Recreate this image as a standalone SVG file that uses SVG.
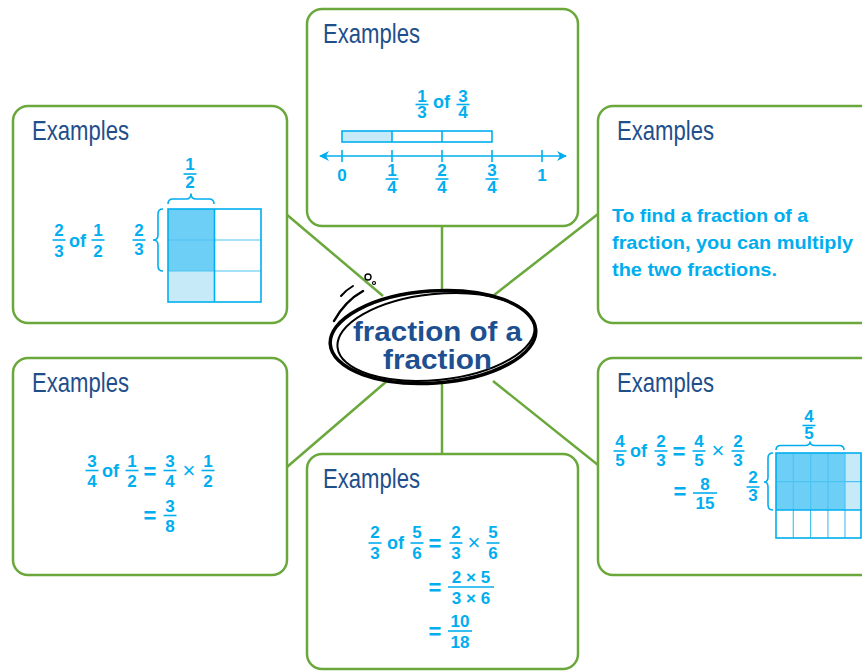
<svg xmlns="http://www.w3.org/2000/svg" width="862" height="671" viewBox="0 0 862 671">
<defs>
<style>
.box{fill:#fff;stroke:#6aa83c;stroke-width:2.5}
.conn{stroke:#6aa83c;stroke-width:2.5;fill:none}
.ex{font-family:"Liberation Sans",Arial,sans-serif;font-size:28px;fill:#1f4f8b}
.m{font-family:"Liberation Sans",Arial,sans-serif;font-weight:bold;font-size:17px;fill:#00aeef;text-anchor:middle}
.of{font-family:"Liberation Sans",Arial,sans-serif;font-weight:bold;font-size:18px;fill:#00aeef}
.eq{font-family:"Liberation Sans",Arial,sans-serif;font-weight:bold;font-size:22px;fill:#00aeef;text-anchor:middle}
.x{font-family:"Liberation Sans",Arial,sans-serif;font-size:22px;fill:#00aeef;text-anchor:middle}
.bar{stroke:#00aeef;stroke-width:1.6}
.cy{stroke:#00aeef;fill:none;stroke-width:1.6}
.gl{stroke:#4cc4f1;stroke-width:1.2}
.txt{font-family:"Liberation Sans",Arial,sans-serif;font-weight:bold;font-size:18.5px;fill:#00aeef}
.title{font-family:"Liberation Sans",Arial,sans-serif;font-weight:bold;font-size:28px;fill:#1d4f91;text-anchor:middle}
</style>
<marker id="arr" viewBox="0 0 10 10" refX="9" refY="5" markerWidth="10" markerHeight="10" markerUnits="userSpaceOnUse" orient="auto-start-reverse">
<path d="M0,0 L10,5 L0,10 L3,5 z" fill="#00aeef"/>
</marker>
</defs>
<rect width="862" height="671" fill="#fff"/>

<g id="connectors">
<line class="conn" x1="286" y1="214" x2="383" y2="296"/>
<line class="conn" x1="442" y1="226" x2="442" y2="298"/>
<line class="conn" x1="598" y1="214" x2="489" y2="299"/>
<line class="conn" x1="287" y1="467" x2="387" y2="381"/>
<line class="conn" x1="442" y1="380" x2="442" y2="454"/>
<line class="conn" x1="598" y1="465" x2="493" y2="381"/>
</g>

<g id="node-top">
<rect class="box" x="307" y="9" width="271" height="217" rx="15"/>
<text class="ex" x="323" y="43" textLength="97" lengthAdjust="spacingAndGlyphs">Examples</text>
<text class="m" x="422" y="102">1</text><line class="bar" x1="415.5" y1="104.5" x2="428.5" y2="104.5"/><text class="m" x="422" y="118">3</text>
<text class="of" x="433" y="108">of</text>
<text class="m" x="463" y="102">3</text><line class="bar" x1="456.5" y1="104.5" x2="469.5" y2="104.5"/><text class="m" x="463" y="118">4</text>
<rect x="342" y="131" width="50" height="11" fill="#c7eaf9"/>
<rect class="cy" x="342" y="131" width="150" height="11"/>
<line class="bar" x1="392" y1="131" x2="392" y2="142"/>
<line class="bar" x1="442" y1="131" x2="442" y2="142"/>
<line class="bar" x1="320" y1="156" x2="566" y2="156" marker-start="url(#arr)" marker-end="url(#arr)"/>
<line class="bar" x1="342" y1="150" x2="342" y2="162"/>
<line class="bar" x1="392" y1="150" x2="392" y2="162"/>
<line class="bar" x1="442" y1="150" x2="442" y2="162"/>
<line class="bar" x1="492" y1="150" x2="492" y2="162"/>
<line class="bar" x1="542" y1="150" x2="542" y2="162"/>
<text class="m" x="342" y="181">0</text>
<text class="m" x="392" y="176">1</text><line class="bar" x1="385.5" y1="179" x2="398.5" y2="179"/><text class="m" x="392" y="193">4</text>
<text class="m" x="442" y="176">2</text><line class="bar" x1="435.5" y1="179" x2="448.5" y2="179"/><text class="m" x="442" y="193">4</text>
<text class="m" x="492" y="176">3</text><line class="bar" x1="485.5" y1="179" x2="498.5" y2="179"/><text class="m" x="492" y="193">4</text>
<text class="m" x="542" y="181">1</text>
</g>

<g id="node-top-left">
<rect class="box" x="13" y="106" width="274" height="217" rx="15"/>
<text class="ex" x="32" y="140" textLength="97" lengthAdjust="spacingAndGlyphs">Examples</text>
<text class="m" x="59" y="236">2</text><line class="bar" x1="52.5" y1="240" x2="65.5" y2="240"/><text class="m" x="59" y="257">3</text>
<text class="of" x="69" y="247">of</text>
<text class="m" x="98" y="236">1</text><line class="bar" x1="91.5" y1="240" x2="104.5" y2="240"/><text class="m" x="98" y="257">2</text>
<text class="m" x="139" y="236">2</text><line class="bar" x1="132.5" y1="240" x2="145.5" y2="240"/><text class="m" x="139" y="255">3</text>
<text class="m" x="190" y="170">1</text><line class="bar" x1="183.5" y1="174" x2="196.5" y2="174"/><text class="m" x="190" y="188">2</text>
<path class="cy" d="M168,204 Q168,199 173,199 L186,199 Q191,199 191,193.5 Q191,199 196,199 L209,199 Q214,199 214,204"/>
<path class="cy" d="M163,209 Q158,209 158,214 L158,235 Q158,240 153,240 Q158,240 158,245 L158,266 Q158,271 163,271"/>
<rect x="168" y="209" width="46.5" height="62" fill="#6dcff6"/>
<rect x="168" y="271" width="46.5" height="31" fill="#c7eaf9"/>
<line class="gl" x1="168" y1="240" x2="261" y2="240"/>
<line class="gl" x1="168" y1="271" x2="261" y2="271"/>
<line class="bar" x1="214.5" y1="209" x2="214.5" y2="302"/>
<rect class="cy" x="168" y="209" width="93" height="93" stroke-width="2"/>
</g>

<g id="node-right">
<rect class="box" x="598" y="106" width="300" height="217" rx="15"/>
<text class="ex" x="617" y="140" textLength="97" lengthAdjust="spacingAndGlyphs">Examples</text>
<text class="txt" x="612" y="222" textLength="196" lengthAdjust="spacingAndGlyphs">To find a fraction of a</text>
<text class="txt" x="612" y="249" textLength="241" lengthAdjust="spacingAndGlyphs">fraction, you can multiply</text>
<text class="txt" x="612" y="276" textLength="165" lengthAdjust="spacingAndGlyphs">the two fractions.</text>
</g>

<g id="node-bottom-left">
<rect class="box" x="13" y="358" width="274" height="217" rx="15"/>
<text class="ex" x="32" y="392" textLength="97" lengthAdjust="spacingAndGlyphs">Examples</text>
<text class="m" x="92" y="467">3</text><line class="bar" x1="85.5" y1="470.5" x2="98.5" y2="470.5"/><text class="m" x="92" y="487">4</text>
<text class="of" x="102" y="477">of</text>
<text class="m" x="132" y="467">1</text><line class="bar" x1="125.5" y1="470.5" x2="138.5" y2="470.5"/><text class="m" x="132" y="487">2</text>
<text class="eq" x="150" y="478.5">=</text>
<text class="m" x="170" y="467">3</text><line class="bar" x1="163.5" y1="470.5" x2="176.5" y2="470.5"/><text class="m" x="170" y="487">4</text>
<text class="x" x="189" y="478">×</text>
<text class="m" x="208" y="467">1</text><line class="bar" x1="201.5" y1="470.5" x2="214.5" y2="470.5"/><text class="m" x="208" y="487">2</text>
<text class="eq" x="150" y="522.5">=</text>
<text class="m" x="170" y="512">3</text><line class="bar" x1="163.5" y1="515.5" x2="176.5" y2="515.5"/><text class="m" x="170" y="532">8</text>
</g>

<g id="node-bottom-center">
<rect class="box" x="307" y="454" width="271" height="215" rx="15"/>
<text class="ex" x="323" y="488" textLength="97" lengthAdjust="spacingAndGlyphs">Examples</text>
<text class="m" x="375" y="538">2</text><line class="bar" x1="368.5" y1="543" x2="381.5" y2="543"/><text class="m" x="375" y="559">3</text>
<text class="of" x="387" y="549">of</text>
<text class="m" x="417" y="538">5</text><line class="bar" x1="410.5" y1="543" x2="423.5" y2="543"/><text class="m" x="417" y="559">6</text>
<text class="eq" x="435" y="550.5">=</text>
<text class="m" x="456" y="538">2</text><line class="bar" x1="449.5" y1="543" x2="462.5" y2="543"/><text class="m" x="456" y="559">3</text>
<text class="x" x="474" y="550">×</text>
<text class="m" x="493" y="538">5</text><line class="bar" x1="486.5" y1="543" x2="499.5" y2="543"/><text class="m" x="493" y="559">6</text>
<text class="eq" x="435" y="594.5">=</text>
<text class="m" x="471" y="583">2 × 5</text><line class="bar" x1="448" y1="587" x2="494" y2="587"/><text class="m" x="471" y="604">3 × 6</text>
<text class="eq" x="435" y="638.5">=</text>
<text class="m" x="460" y="627">10</text><line class="bar" x1="448" y1="631" x2="472" y2="631"/><text class="m" x="460" y="648">18</text>
</g>

<g id="node-bottom-right">
<rect class="box" x="598" y="358" width="300" height="217" rx="15"/>
<text class="ex" x="617" y="392" textLength="97" lengthAdjust="spacingAndGlyphs">Examples</text>
<text class="m" x="620" y="447">4</text><line class="bar" x1="613.5" y1="451" x2="626.5" y2="451"/><text class="m" x="620" y="466">5</text>
<text class="of" x="630" y="457">of</text>
<text class="m" x="661" y="447">2</text><line class="bar" x1="654.5" y1="451" x2="667.5" y2="451"/><text class="m" x="661" y="466">3</text>
<text class="eq" x="679" y="458.5">=</text>
<text class="m" x="699" y="447">4</text><line class="bar" x1="692.5" y1="451" x2="705.5" y2="451"/><text class="m" x="699" y="466">5</text>
<text class="x" x="718" y="458">×</text>
<text class="m" x="738" y="447">2</text><line class="bar" x1="731.5" y1="451" x2="744.5" y2="451"/><text class="m" x="738" y="466">3</text>
<text class="eq" x="680" y="499">=</text>
<text class="m" x="705" y="490">8</text><line class="bar" x1="693" y1="493" x2="717" y2="493"/><text class="m" x="705" y="509">15</text>
<text class="m" x="809" y="422">4</text><line class="bar" x1="802.5" y1="425.5" x2="815.5" y2="425.5"/><text class="m" x="809" y="439">5</text>
<text class="m" x="753" y="483">2</text><line class="bar" x1="746.5" y1="487" x2="759.5" y2="487"/><text class="m" x="753" y="501">3</text>
<path class="cy" d="M776,450 Q776,445.5 781,445.5 L805,445.5 Q810,445.5 810,441.5 Q810,445.5 815,445.5 L839,445.5 Q844,445.5 844,450"/>
<path class="cy" d="M773,453 Q768,453 768,458 L768,477 Q768,482 764,482 Q768,482 768,487 L768,505 Q768,510 773,510"/>
<rect x="776" y="453" width="69" height="57" fill="#6dcff6"/>
<rect x="845" y="453" width="17" height="57" fill="#c7eaf9"/>
<line class="gl" x1="793.3" y1="453" x2="793.3" y2="538"/>
<line class="gl" x1="810.6" y1="453" x2="810.6" y2="538"/>
<line class="gl" x1="827.9" y1="453" x2="827.9" y2="538"/>
<line class="gl" x1="845" y1="453" x2="845" y2="538"/>
<line class="gl" x1="776" y1="481.7" x2="862" y2="481.7"/>
<line class="bar" x1="776" y1="510" x2="862" y2="510"/>
<rect class="cy" x="776" y="453" width="85" height="85" stroke-width="2"/>
</g>

<g id="node-center">
<ellipse cx="433" cy="337" rx="103" ry="46" transform="rotate(-4 433 337)" fill="#fff" stroke="#000" stroke-width="3.5"/>
<ellipse cx="436" cy="337" rx="99" ry="43" transform="rotate(-6 436 337)" fill="none" stroke="#000" stroke-width="2"/>
<path d="M334,321 Q345,301 363,291" fill="none" stroke="#000" stroke-width="2.5" stroke-linecap="round"/>
<path d="M341,296 Q346,290 353,286" fill="none" stroke="#000" stroke-width="2" stroke-linecap="round"/>
<circle cx="368" cy="277" r="3" fill="#fff" stroke="#000" stroke-width="1.4"/>
<circle cx="374" cy="283" r="1.5" fill="#fff" stroke="#000" stroke-width="1.2"/>
<text class="title" x="437.5" y="341" textLength="169" lengthAdjust="spacingAndGlyphs">fraction of a</text>
<text class="title" x="437.5" y="369" textLength="109" lengthAdjust="spacingAndGlyphs">fraction</text>
</g>
</svg>
